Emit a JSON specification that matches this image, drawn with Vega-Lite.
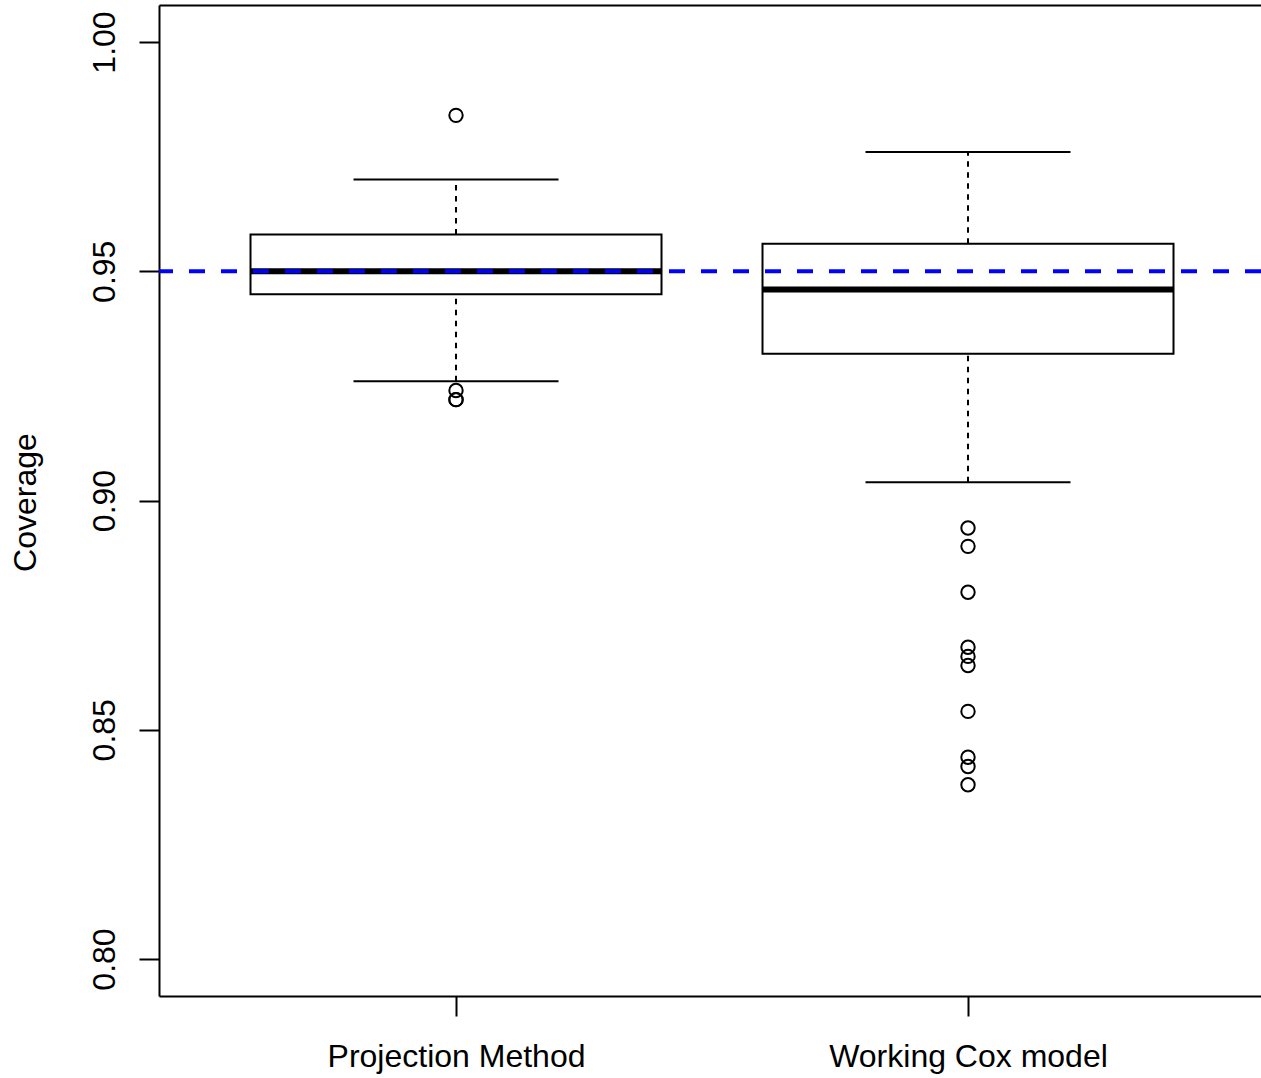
{
  "$schema": "https://vega.github.io/schema/vega-lite/v6.json",
  "width": 1102,
  "height": 991,
  "autosize": "none",
  "padding": {"left": 159, "top": 5, "right": 0, "bottom": 82},
  "background": "white",
  "config": {
    "view": {"stroke": null},
    "font": "Liberation Sans",
    "axis": {"grid": false, "domainColor": "black", "tickColor": "black", "labelColor": "black", "titleColor": "black", "domainWidth": 2, "tickWidth": 2}
  },
  "datasets": {
    "stats": [
      {"method": "Projection Method", "lower": 0.926, "q1": 0.945, "median": 0.950, "q3": 0.958, "upper": 0.970},
      {"method": "Working Cox model", "lower": 0.904, "q1": 0.932, "median": 0.946, "q3": 0.956, "upper": 0.976}
    ],
    "outliers": [
      {"method": "Projection Method", "coverage": 0.984},
      {"method": "Projection Method", "coverage": 0.924},
      {"method": "Projection Method", "coverage": 0.922},
      {"method": "Projection Method", "coverage": 0.922},
      {"method": "Working Cox model", "coverage": 0.894},
      {"method": "Working Cox model", "coverage": 0.890},
      {"method": "Working Cox model", "coverage": 0.880},
      {"method": "Working Cox model", "coverage": 0.868},
      {"method": "Working Cox model", "coverage": 0.866},
      {"method": "Working Cox model", "coverage": 0.864},
      {"method": "Working Cox model", "coverage": 0.854},
      {"method": "Working Cox model", "coverage": 0.844},
      {"method": "Working Cox model", "coverage": 0.842},
      {"method": "Working Cox model", "coverage": 0.838}
    ]
  },
  "resolve": {"axis": {"x": "independent"}},
  "layer": [
    {
      "data": {"name": "stats"},
      "mark": {"type": "rule", "color": "black", "strokeWidth": 2, "strokeDash": [5.5, 5.5], "opacity": 1},
      "encoding": {
        "x": {"field": "method", "type": "nominal", "sort": ["Projection Method", "Working Cox model"],
          "scale": {"type": "point", "padding": 0.57617, "align": 0.5034},
          "axis": {"orient": "bottom", "title": null, "tickSize": 20, "labelFontSize": 32, "labelPadding": 25, "labelAngle": 0, "labelFont": "Liberation Sans", "labelLimit": 0}},
        "y": {"field": "q3", "type": "quantitative",
          "scale": {"domain": [0.79193, 1.00807], "nice": false, "zero": false},
          "axis": {"orient": "left", "values": [0.8, 0.85, 0.9, 0.95, 1.0], "format": ".2f", "tickSize": 20,
            "labelFontSize": 32, "labelAngle": -90, "labelAlign": "center", "labelBaseline": "bottom", "labelPadding": 18,
            "labelOverlap": false, "labelFlush": false, "labelBound": false,
            "title": "Coverage", "titleFontSize": 32, "titleFontWeight": "normal", "titleAngle": -90,
            "titleAlign": "center", "titleBaseline": "alphabetic", "titleX": -124, "titleY": 497}},
        "y2": {"field": "upper"}
      }
    },
    {
      "data": {"name": "stats"},
      "mark": {"type": "rule", "color": "black", "strokeWidth": 2, "strokeDash": [5.5, 5.5], "opacity": 1},
      "encoding": {
        "x": {"field": "method", "type": "nominal", "sort": ["Projection Method", "Working Cox model"], "axis": null},
        "y": {"field": "lower", "type": "quantitative"},
        "y2": {"field": "q1"}
      }
    },
    {
      "data": {"name": "stats"},
      "mark": {"type": "tick", "color": "black", "size": 205, "thickness": 2, "orient": "horizontal", "opacity": 1},
      "encoding": {
        "x": {"field": "method", "type": "nominal", "sort": ["Projection Method", "Working Cox model"], "axis": null},
        "y": {"field": "upper", "type": "quantitative"}
      }
    },
    {
      "data": {"name": "stats"},
      "mark": {"type": "tick", "color": "black", "size": 205, "thickness": 2, "orient": "horizontal", "opacity": 1},
      "encoding": {
        "x": {"field": "method", "type": "nominal", "sort": ["Projection Method", "Working Cox model"], "axis": null},
        "y": {"field": "lower", "type": "quantitative"}
      }
    },
    {
      "data": {"name": "stats"},
      "mark": {"type": "bar", "width": 411, "fill": "white", "stroke": "black", "strokeWidth": 2, "opacity": 1},
      "encoding": {
        "x": {"field": "method", "type": "nominal", "sort": ["Projection Method", "Working Cox model"], "axis": null},
        "y": {"field": "q1", "type": "quantitative"},
        "y2": {"field": "q3"}
      }
    },
    {
      "data": {"name": "stats"},
      "mark": {"type": "tick", "color": "black", "size": 411, "thickness": 6, "orient": "horizontal", "opacity": 1},
      "encoding": {
        "x": {"field": "method", "type": "nominal", "sort": ["Projection Method", "Working Cox model"], "axis": null},
        "y": {"field": "median", "type": "quantitative"}
      }
    },
    {
      "data": {"name": "outliers"},
      "mark": {"type": "point", "shape": "circle", "filled": false, "stroke": "black", "strokeWidth": 2, "size": 180, "opacity": 1},
      "encoding": {
        "x": {"field": "method", "type": "nominal", "sort": ["Projection Method", "Working Cox model"],
          "axis": {"orient": "top", "labels": false, "ticks": false, "title": null, "domain": true}},
        "y": {"field": "coverage", "type": "quantitative"}
      }
    },
    {
      "data": {"values": [{}]},
      "mark": {"type": "rule", "color": "#0000FF", "strokeWidth": 4, "strokeDash": [16, 16], "strokeCap": "butt", "opacity": 1},
      "encoding": {
        "y": {"datum": 0.95, "type": "quantitative"}
      }
    }
  ]
}
